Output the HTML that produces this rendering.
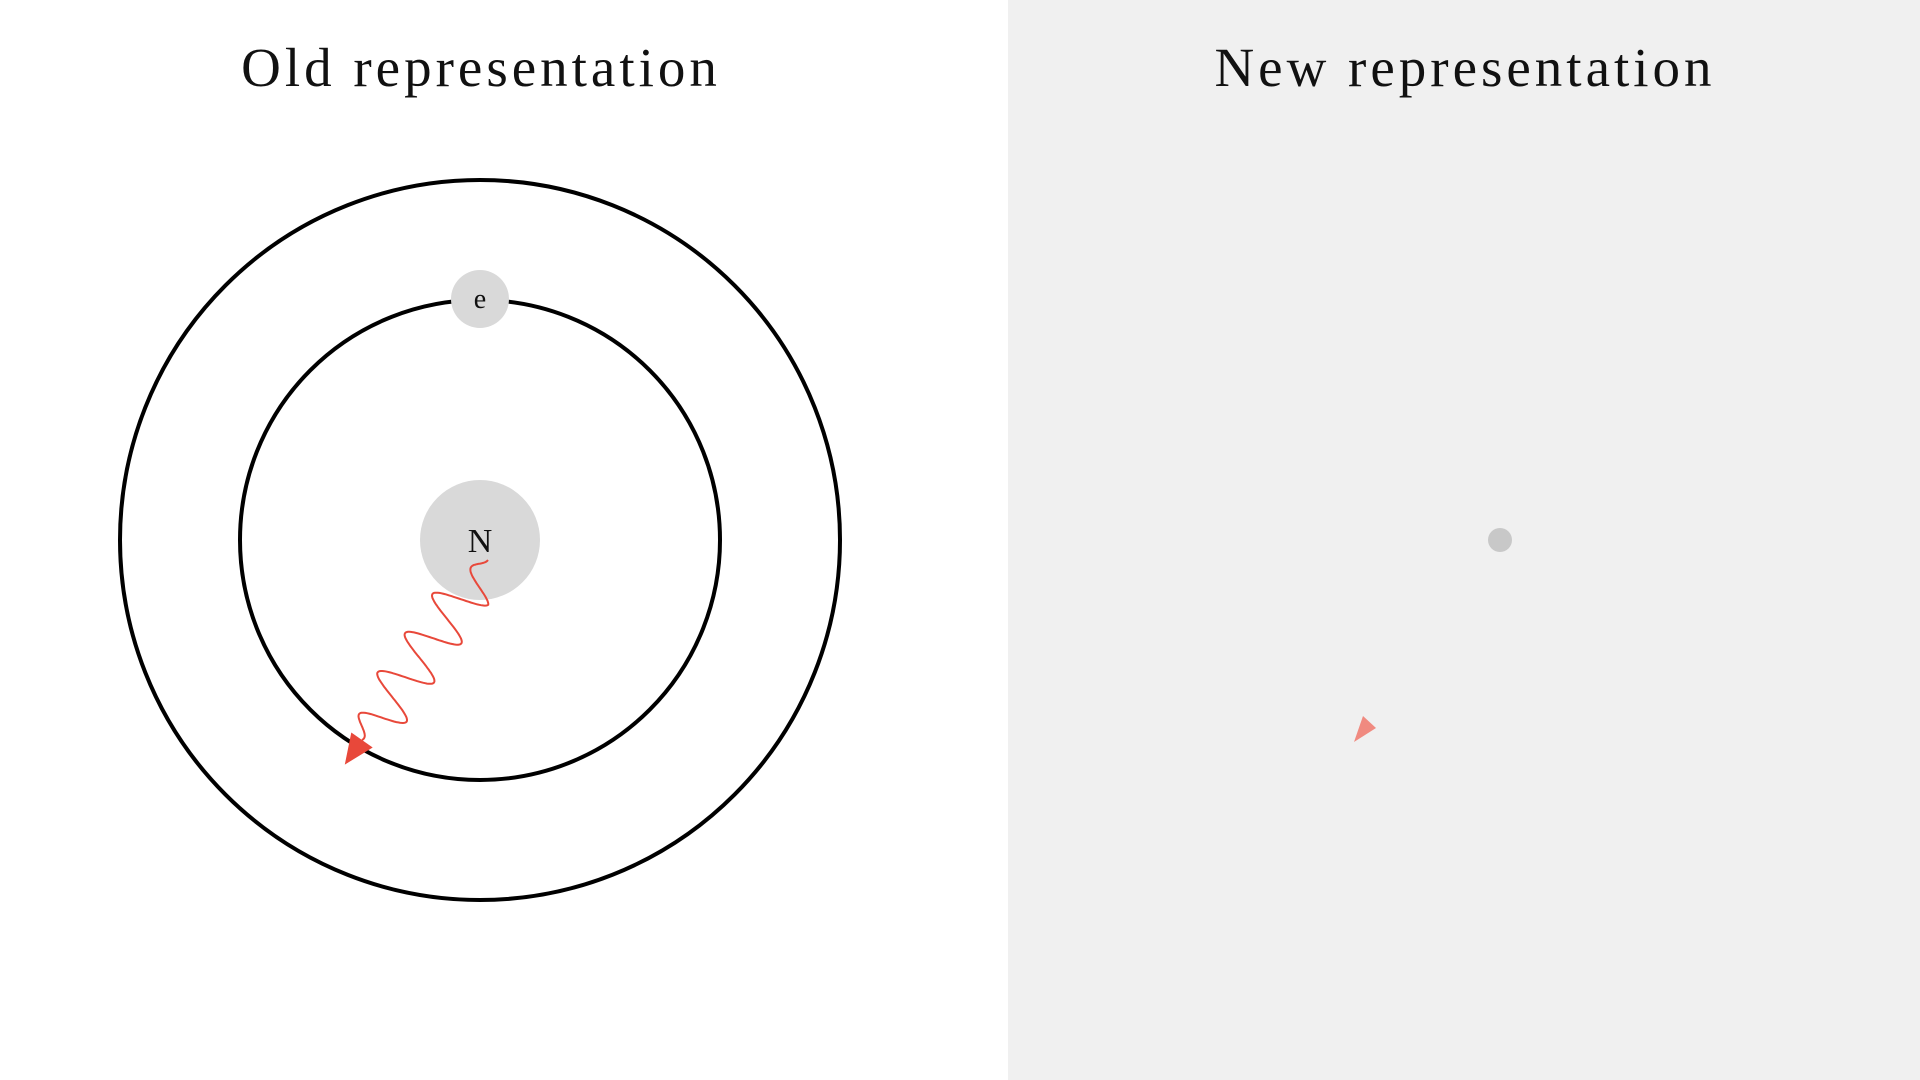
<!DOCTYPE html>
<html>
<head>
<meta charset="utf-8">
<style>
  html,body{margin:0;padding:0;background:#fff;}
  svg{display:block;}
  text{font-family:"Liberation Serif","DejaVu Serif",serif;}
</style>
</head>
<body>
<svg id="fig" width="1920" height="1080" viewBox="0 0 1920 1080" xmlns="http://www.w3.org/2000/svg">
  <rect x="0" y="0" width="1008" height="1080" fill="#ffffff"/>
  <rect x="1008" y="0" width="912" height="1080" fill="#f0f0f0"/>

  <text x="481" y="86" font-size="55" letter-spacing="4" text-anchor="middle" fill="#111">Old representation</text>
  <text x="1465" y="86" font-size="55" letter-spacing="4" text-anchor="middle" fill="#111">New representation</text>

  <circle cx="480" cy="540" r="360" fill="none" stroke="#000" stroke-width="4"/>
  <circle cx="480" cy="540" r="240" fill="none" stroke="#000" stroke-width="4"/>
  <circle cx="480" cy="540" r="60" fill="#d9d9d9"/>
  <text x="480" y="552" font-size="34" text-anchor="middle" fill="#111">N</text>
  <circle cx="480" cy="299" r="29" fill="#d9d9d9"/>
  <text x="480" y="308" font-size="28" text-anchor="middle" fill="#111">e</text>

  <path id="wave" fill="none" stroke="#e8483a" stroke-width="2"/>
  <polygon id="arrowhead" fill="#e8483a"/>

  <circle cx="1500" cy="540" r="12" fill="#c8c8c8"/>
  <polygon points="1363,716 1376,728 1354,742" fill="#f08a80"/>
</svg>
<script>
const waveStart = [488, 560];
const waveEnd = [362, 740];
const waveCycles = [4.6];
const waveAmplitude = [26];

(function(){
  const [x0,y0]=waveStart,[x1,y1]=waveEnd;
  const dx=x1-x0, dy=y1-y0, L=Math.hypot(dx,dy);
  const ux=dx/L, uy=dy/L, nx=-uy, ny=ux;
  let d='';
  const N=300;
  for(let i=0;i<=N;i++){
    const t=i/N;
    const env=Math.min(1,t*6)*Math.min(1,(1-t)*8);
    const a=waveAmplitude[0]*env*Math.sin(2*Math.PI*waveCycles[0]*t);
    const x=x0+dx*t+nx*a, y=y0+dy*t+ny*a;
    d+=(i?'L':'M')+x.toFixed(1)+','+y.toFixed(1);
  }
  document.getElementById('wave').setAttribute('d',d);
  const tipX=x1+ux*30, tipY=y1+uy*30;
  const bx=x1, by=y1, w=13;
  const pts=[[tipX,tipY],[bx+nx*w,by+ny*w],[bx-nx*w,by-ny*w]];
  document.getElementById('arrowhead').setAttribute('points',pts.map(p=>p[0].toFixed(1)+','+p[1].toFixed(1)).join(' '));
})();
</script>
</body>
</html>
